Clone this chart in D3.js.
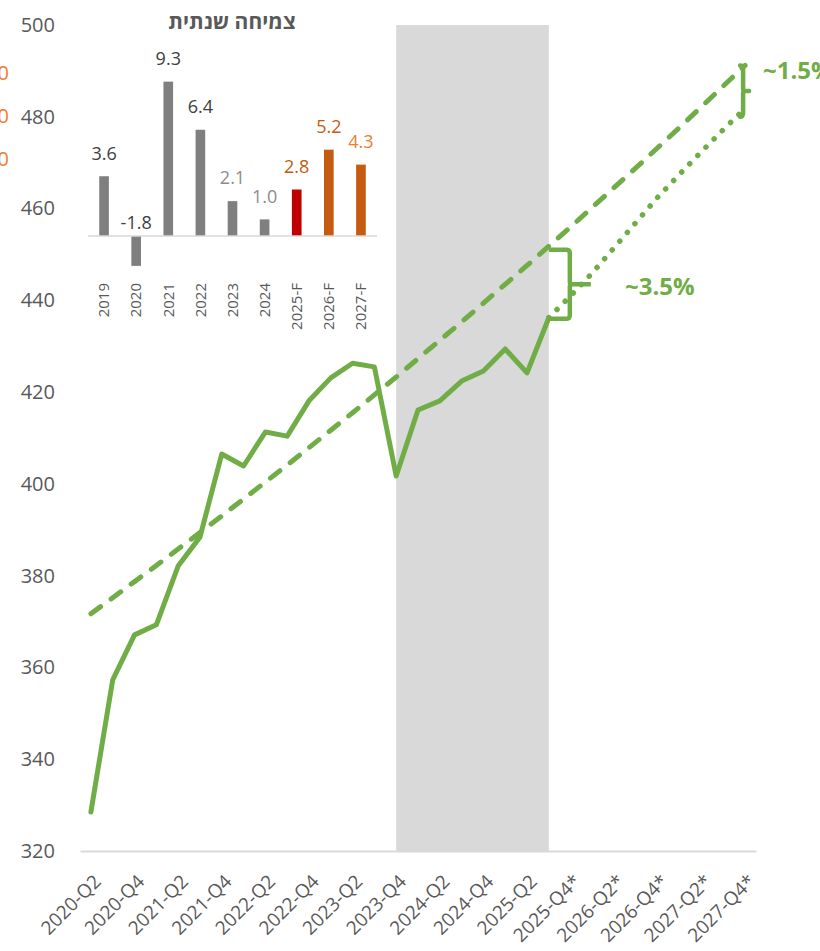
<!DOCTYPE html>
<html>
<head>
<meta charset="utf-8">
<script src="https://cdn.jsdelivr.net/npm/d3@7"></script>
<style>
  body { margin: 0; background: #fff; }
  svg { display: block; font-family: "Open Sans", "Liberation Sans", "DejaVu Sans", sans-serif; }
</style>
</head>
<body>
<svg id="chart" width="820" height="951"></svg>
<script>
// quarters on the category axis (* = forecast)
const quarters = [
  "2020-Q2", "2020-Q3", "2020-Q4",
  "2021-Q1", "2021-Q2", "2021-Q3", "2021-Q4",
  "2022-Q1", "2022-Q2", "2022-Q3", "2022-Q4",
  "2023-Q1", "2023-Q2", "2023-Q3", "2023-Q4",
  "2024-Q1", "2024-Q2", "2024-Q3", "2024-Q4",
  "2025-Q1", "2025-Q2", "2025-Q3", "2025-Q4*",
  "2026-Q1*", "2026-Q2*", "2026-Q3*", "2026-Q4*",
  "2027-Q1*", "2027-Q2*", "2027-Q3*", "2027-Q4*"
];
const quarterTicks = quarters.filter((q, i) => i % 2 === 0);

// actual series (2020-Q2 .. 2025-Q3)
const actualValues = [
  328.5, 357.3, 367.1, 369.3, 382.1, 388.4, 406.5, 403.9, 411.3, 410.4, 418.1,
  423.1, 426.3, 425.5, 401.7, 416.1, 418.1, 422.4, 424.6, 429.4, 424.2, 436.2
];

// long-run trend (dashed), 2020-Q2 .. 2027-Q4
const trendValues = [
  371.7, 375.2, 378.7, 382.2, 385.8, 389.4, 393.0, 396.7, 400.4, 404.1, 407.9,
  411.7, 415.5, 419.4, 423.3, 427.3, 431.3, 435.3, 439.4, 443.5, 447.6, 451.8,
  456.0, 460.3, 464.6, 468.9, 473.3, 477.7, 482.2, 486.7, 491.2
];

// forecast path (dotted), 2025-Q3 .. 2027-Q4
const forecastStart = "2025-Q3";
const forecastValues = [436.2, 441.0, 446.0, 451.5, 457.0, 462.5, 467.5, 472.4, 477.2, 481.8];

// grey shaded period
const shadeFrom = "2023-Q4";
const shadeTo = "2025-Q3";

const yTicks = [320, 340, 360, 380, 400, 420, 440, 460, 480, 500];

// gap annotations
const gapNear = { quarter: "2025-Q3", top: 451.0, bottom: 436.0, label: "~3.5%" };
const gapFar = { quarter: "2027-Q4*", top: 491.2, bottom: 480.0, label: "~1.5%" };

// inset: annual growth
const insetTitle = "צמיחה שנתית";
const growthYears = ["2019", "2020", "2021", "2022", "2023", "2024", "2025-F", "2026-F", "2027-F"];
const growthValues = [3.6, -1.8, 9.3, 6.4, 2.1, 1.0, 2.8, 5.2, 4.3];
const growthBarColors = ["#7f7f7f", "#7f7f7f", "#7f7f7f", "#7f7f7f", "#7f7f7f", "#7f7f7f", "#c00000", "#c55a11", "#c55a11"];
const growthLabelColors = ["#404040", "#404040", "#404040", "#404040", "#8c8c8c", "#8c8c8c", "#c55a11", "#c55a11", "#ed7d31"];

// cut-off secondary labels at the far left
const clippedLabels = ["0", "0", "0"];

const green = "#70ad47";
const svg = d3.select("#chart");

const x = d3.scalePoint().domain(quarters).range([80, 756]).padding(0.5);
const y = d3.scaleLinear().domain([320, 500]).range([851, 25]);

// shaded band
svg.append("rect")
  .attr("x", x(shadeFrom))
  .attr("y", y(500))
  .attr("width", x(shadeTo) - x(shadeFrom))
  .attr("height", y(320) - y(500))
  .attr("fill", "#d9d9d9");

// y axis
const yAxis = svg.append("g")
  .attr("transform", "translate(63,0)")
  .call(d3.axisLeft(y).tickValues(yTicks).tickSize(0).tickPadding(8));
yAxis.select(".domain").remove();
yAxis.selectAll("text")
  .attr("fill", "#595959")
  .attr("font-size", 20)
  .attr("font-family", "Open Sans, sans-serif");

// x axis
const xAxis = svg.append("g")
  .attr("transform", `translate(0,${y(320)})`)
  .call(d3.axisBottom(x).tickValues(quarterTicks).tickSize(0));
xAxis.select(".domain").attr("stroke", "#d9d9d9").attr("stroke-width", 2);
xAxis.selectAll("text")
  .attr("fill", "#595959")
  .attr("font-size", 19)
  .attr("font-family", "Open Sans, sans-serif")
  .attr("text-anchor", "end")
  .attr("y", 0)
  .attr("dy", "0.35em")
  .attr("transform", "translate(6,27) rotate(-45)");

// clipped orange labels on the left edge
svg.selectAll(".clip-label")
  .data(clippedLabels)
  .enter()
  .append("text")
  .attr("class", "clip-label")
  .attr("x", 9)
  .attr("y", (d, i) => 73 + i * 43)
  .attr("dy", "0.35em")
  .attr("text-anchor", "end")
  .attr("font-size", 20)
  .attr("fill", "#ed7d31")
  .text((d) => d);

// lines
const line = d3.line()
  .x((d) => x(d.q))
  .y((d) => y(d.v));

const trendData = trendValues.map((v, i) => ({ q: quarters[i], v }));
const actualData = actualValues.map((v, i) => ({ q: quarters[i], v }));
const f0 = quarters.indexOf(forecastStart);
const forecastData = forecastValues.map((v, i) => ({ q: quarters[f0 + i], v }));

svg.append("path")
  .datum(trendData)
  .attr("d", line)
  .attr("fill", "none")
  .attr("stroke", green)
  .attr("stroke-width", 5)
  .attr("stroke-linecap", "round")
  .attr("stroke-dasharray", "12 13");

svg.append("path")
  .datum(forecastData)
  .attr("d", line)
  .attr("fill", "none")
  .attr("stroke", green)
  .attr("stroke-width", 5.5)
  .attr("stroke-linecap", "round")
  .attr("stroke-dasharray", "0.1 11.5");

svg.append("path")
  .datum(actualData)
  .attr("d", line)
  .attr("fill", "none")
  .attr("stroke", green)
  .attr("stroke-width", 5)
  .attr("stroke-linejoin", "round")
  .attr("stroke-linecap", "round");

// braces marking the gaps
function brace(x0, yTop, yBot, reach, nub) {
  const mid = (yTop + yBot) / 2;
  const xv = x0 + reach;
  return `M${x0},${yTop} L${xv - 3},${yTop} Q${xv},${yTop} ${xv},${yTop + 4}` +
    ` L${xv},${mid - 2} Q${xv},${mid} ${xv + 3},${mid} L${xv + nub},${mid}` +
    ` M${xv + 3},${mid} Q${xv},${mid} ${xv},${mid + 2}` +
    ` L${xv},${yBot - 4} Q${xv},${yBot} ${xv - 3},${yBot} L${x0},${yBot}`;
}

svg.append("path")
  .attr("d", brace(x(gapNear.quarter), y(gapNear.top), y(gapNear.bottom), 21, 21))
  .attr("fill", "none")
  .attr("stroke", green)
  .attr("stroke-width", 4.5)
  .attr("stroke-linejoin", "round");

svg.append("path")
  .attr("d", brace(x(gapFar.quarter) - 4, y(gapFar.top), y(gapFar.bottom), 2, 6))
  .attr("fill", "none")
  .attr("stroke", green)
  .attr("stroke-width", 4.5)
  .attr("stroke-linecap", "round")
  .attr("stroke-linejoin", "round");

svg.append("text")
  .attr("x", 625)
  .attr("y", 295)
  .attr("font-size", 24)
  .attr("font-weight", "bold")
  .attr("fill", green)
  .text(gapNear.label);

svg.append("text")
  .attr("x", 763)
  .attr("y", 79)
  .attr("font-size", 24)
  .attr("font-weight", "bold")
  .attr("fill", green)
  .text(gapFar.label);

// inset bar chart
const ix = d3.scaleBand().domain(growthYears).range([88, 377]).paddingInner(0.7).paddingOuter(0.35);
const iy = d3.scaleLinear().domain([0, 10]).range([236, 70]);

const inset = svg.append("g");

inset.append("text")
  .attr("x", 232)
  .attr("y", 22)
  .attr("dy", "0.35em")
  .attr("text-anchor", "middle")
  .attr("font-size", 21)
  .attr("font-weight", "bold")
  .attr("fill", "#595959")
  .text(insetTitle);

inset.selectAll(".bar")
  .data(growthValues)
  .enter()
  .append("rect")
  .attr("class", "bar")
  .attr("x", (d, i) => ix(growthYears[i]))
  .attr("width", ix.bandwidth())
  .attr("y", (d) => iy(Math.max(0, d)))
  .attr("height", (d) => Math.abs(iy(d) - iy(0)))
  .attr("fill", (d, i) => growthBarColors[i]);

inset.append("line")
  .attr("x1", 88)
  .attr("x2", 377)
  .attr("y1", iy(0))
  .attr("y2", iy(0))
  .attr("stroke", "#d9d9d9")
  .attr("stroke-width", 1.5);

inset.selectAll(".val")
  .data(growthValues)
  .enter()
  .append("text")
  .attr("class", "val")
  .attr("x", (d, i) => ix(growthYears[i]) + ix.bandwidth() / 2)
  .attr("y", (d) => (d >= 0 ? iy(d) - 23 : iy(0) - 13))
  .attr("dy", "0.35em")
  .attr("text-anchor", "middle")
  .attr("font-size", 18)
  .attr("fill", (d, i) => growthLabelColors[i])
  .text((d) => d.toFixed(1));

inset.selectAll(".cat")
  .data(growthYears)
  .enter()
  .append("text")
  .attr("class", "cat")
  .attr("transform", (d) => `translate(${ix(d) + ix.bandwidth() / 2},283) rotate(-90)`)
  .attr("dy", "0.35em")
  .attr("text-anchor", "end")
  .attr("font-size", 15)
  .attr("fill", "#595959")
  .text((d) => d);
</script>
</body>
</html>
